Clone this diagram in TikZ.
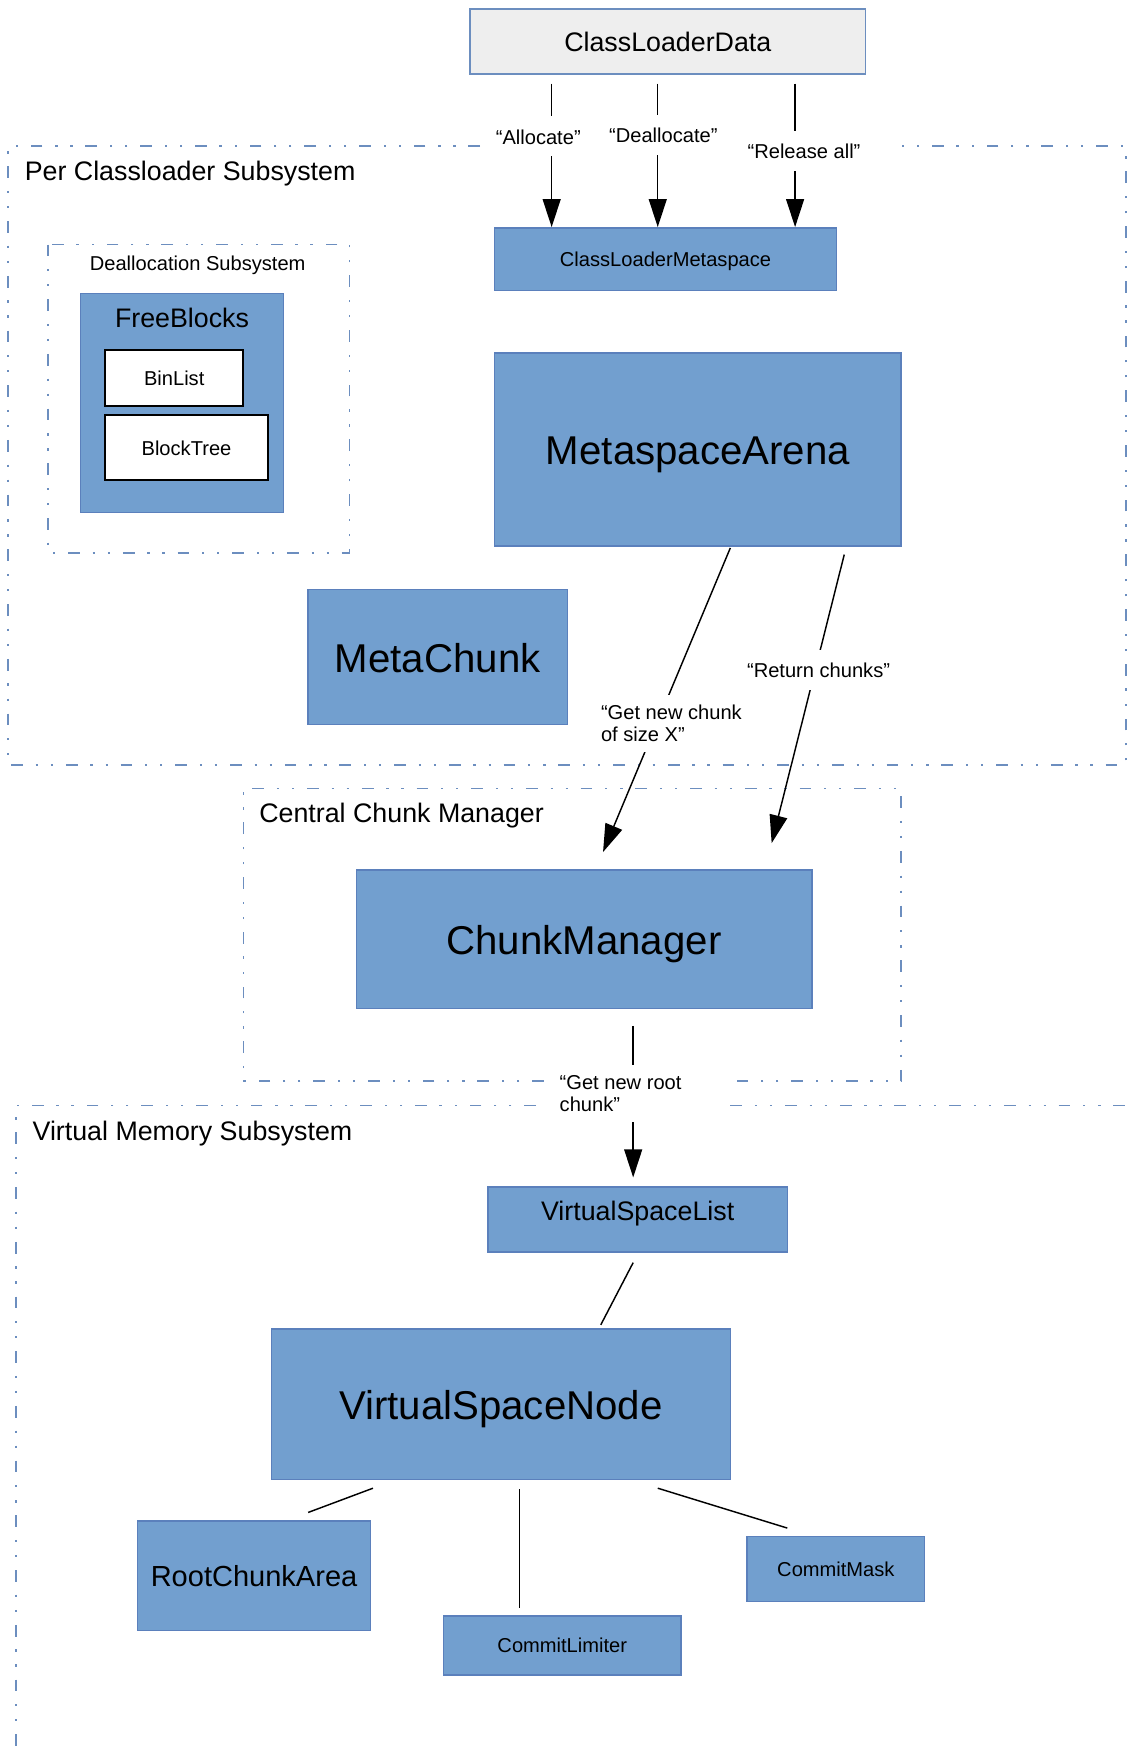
\documentclass[tikz,border=0pt]{standalone}
\usepackage{fontspec}
\setmainfont{Liberation Sans}
\usetikzlibrary{arrows.meta}
\definecolor{boxfill}{HTML}{729FCF}
\definecolor{boxline}{HTML}{5B80BC}
\definecolor{cldfill}{HTML}{EEEEEE}
\definecolor{cldline}{HTML}{6C8EBF}
\definecolor{regline}{HTML}{6C8EBF}
\newcommand\szS{\fontsize{18}{20}\selectfont}
\newcommand\szM{\fontsize{24}{28}\selectfont}
\newcommand\szR{\fontsize{26}{30}\selectfont}
\newcommand\szL{\fontsize{36}{40}\selectfont}
\tikzset{
  fS/.style={font=\szS, text height=16.9pt, text depth=3.6pt},
  fM/.style={font=\szM, text height=22.6pt, text depth=4.8pt},
  fR/.style={font=\szR, text height=24.4pt, text depth=5.2pt},
  fL/.style={font=\szL, text height=33.8pt, text depth=7.2pt},
  bluebox/.style={draw=boxline, fill=boxfill, line width=1.3pt, inner sep=0pt},
  whitebox/.style={draw=black, fill=white, line width=1.8pt, inner sep=0pt, fS},
  cldbox/.style={draw=cldline, fill=cldfill, line width=1.6pt, inner sep=0pt, fM},
  region/.style={draw=regline, line width=1.6pt, dash pattern=on 10.5pt off 11.5pt on 2pt off 11.5pt on 2pt off 11.5pt},
  title/.style={inner sep=0pt, anchor=west, fM},
  conn/.style={line width=1.3pt, draw=black},
  arr/.style={conn, -{Triangle[length=25pt,width=16pt]}},
  elabel/.style={fill=white, inner xsep=4pt, inner ysep=9pt, font=\szS, text height=16pt, text depth=2pt},
  mlabel/.style={fill=white, inner xsep=0pt, inner ysep=9pt, font=\szS, align=left, anchor=west}
}
\begin{document}
\begin{tikzpicture}[x=1pt,y=-1pt]
\useasboundingbox (0,0) rectangle (1010,1568);

% regions
\draw[region] (430,131) -- (7,131) -- (7,685) -- (1008,685) -- (1008,131) -- (800,131);
\draw[region] (43,219) rectangle (313,495);
\draw[region] (487,968) -- (218,968) -- (218,706) -- (807,706) -- (807,968) -- (660,968);
\draw[region] (480,990) -- (14,990) -- (14,1575);
\draw[region] (654,990) -- (1015,990);

% region titles
\node[title] (t1) at (22,153) {Per Classloader Subsystem};
\node[inner sep=0pt, fS] (t2) at (177,236) {Deallocation Subsystem};
\node[title] (t3) at (232,728) {Central Chunk Manager};
\node[title] (t4) at (29,1012) {Virtual Memory Subsystem};

% boxes
\node[cldbox, minimum width=354pt, minimum height=58pt] (cld) at (598,37) {ClassLoaderData};
\node[bluebox, fS, minimum width=306pt, minimum height=56pt] (clm) at (596,232) {ClassLoaderMetaspace};
\node[bluebox, fL, minimum width=364pt, minimum height=173pt] (arena) at (625,402.5) {MetaspaceArena};
\node[bluebox, fL, minimum width=232pt, minimum height=121pt] (mc) at (392,588.5) {MetaChunk};
\node[bluebox, minimum width=182pt, minimum height=196pt] (fb) at (163,361) {};
\node[inner sep=0pt, fM] (fbt) at (163,284) {FreeBlocks};
\node[whitebox, minimum width=124pt, minimum height=51pt] (bl) at (156,338.5) {BinList};
\node[whitebox, minimum width=146pt, minimum height=58pt] (bt) at (167,401) {BlockTree};
\node[bluebox, fL, minimum width=408pt, minimum height=124pt] (cm) at (523,841) {ChunkManager};
\node[bluebox, fM, minimum width=268pt, minimum height=58pt] (vsl) at (571,1092) {\raisebox{8pt}{VirtualSpaceList}};
\node[bluebox, fL, minimum width=411pt, minimum height=135pt] (vsn) at (448.5,1257.5) {VirtualSpaceNode};
\node[bluebox, fR, minimum width=209pt, minimum height=98pt] (rca) at (227.5,1411) {RootChunkArea};
\node[bluebox, fS, minimum width=213pt, minimum height=53pt] (cl) at (503.5,1473.5) {CommitLimiter};
\node[bluebox, fS, minimum width=159pt, minimum height=58pt] (cmk) at (748.5,1405) {CommitMask};

% free ends
\coordinate (gnc) at (540,763);
\coordinate (rc) at (691,755);

% connectors
\draw[arr] ([xshift=-104pt,yshift=-8pt]cld.south) -- ([xshift=-102pt]clm.north);
\draw[arr] ([xshift=-9pt,yshift=-8pt]cld.south) -- ([xshift=-7pt]clm.north);
\draw[arr] ([xshift=114pt,yshift=-8pt]cld.south) -- ([xshift=116pt]clm.north);
\draw[arr] ([xshift=29pt,yshift=-1pt]arena.south) -- (gnc);
\draw[arr] ([xshift=131pt,yshift=-7pt]arena.south) -- (rc);
\draw[arr] ([xshift=44pt,yshift=-15pt]cm.south) -- ([xshift=-4pt,yshift=8pt]vsl.north);
\draw[conn] ([xshift=-4pt,yshift=-9pt]vsl.south) -- ([xshift=89.5pt,yshift=3pt]vsn.north);
\draw[conn] ([xshift=-114.5pt,yshift=-7pt]vsn.south) -- ([xshift=48.5pt,yshift=7pt]rca.north);
\draw[conn] ([xshift=16.5pt,yshift=-8pt]vsn.south) -- ([xshift=-38.5pt,yshift=6pt]cl.north);
\draw[conn] ([xshift=140.5pt,yshift=-7pt]vsn.south) -- ([xshift=-43.5pt,yshift=7pt]cmk.north);

% edge labels
\node[elabel] (l1) at (482,122) {“Allocate”};
\node[elabel] (l2) at (594,121) {“Deallocate”};
\node[elabel] (l3) at (720,135) {“Release all”};
\node[mlabel] (l4) at (538,648) {“Get new chunk\\of size X”};
\node[elabel] (l5) at (733,600) {“Return chunks”};
\node[mlabel] (l6) at (501,979) {“Get new root\\chunk”};
\end{tikzpicture}
\end{document}
